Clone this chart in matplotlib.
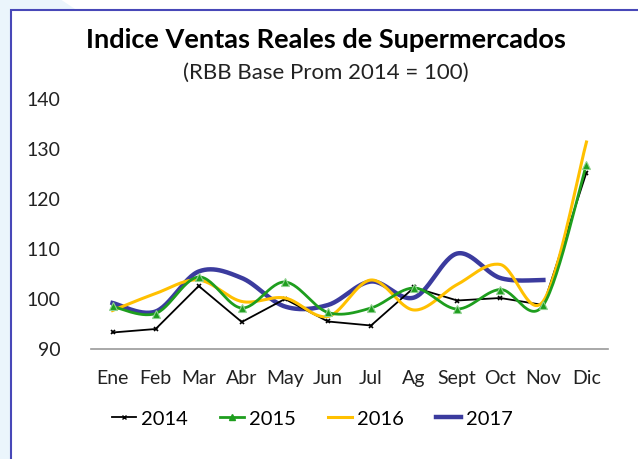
import numpy as np
import matplotlib
matplotlib.use('Agg')
import matplotlib.pyplot as plt
from matplotlib.patches import Polygon, Rectangle
from matplotlib.lines import Line2D

months = ["Ene", "Feb", "Mar", "Abr", "May", "Jun", "Jul", "Ag", "Sept", "Oct", "Nov", "Dic"]
v2014 = [93.2, 93.9, 102.5, 95.3, 99.9, 95.4, 94.6, 102.2, 99.6, 100.1, 98.7, 125.2]
v2015 = [98.4, 97.0, 104.3, 98.1, 103.3, 97.2, 98.1, 102.1, 97.9, 101.8, 98.7, 126.8]
v2016 = [97.6, 101.0, 103.7, 99.4, 100.1, 96.4, 103.7, 97.7, 102.8, 106.8, 99.5, 131.3]
v2017 = [99.1, 97.4, 105.4, 104.1, 98.4, 98.7, 103.4, 100.2, 109.0, 104.1, 103.7]


def smooth(y, n=30):
    # Catmull-Rom style curve, like Excel's "smoothed line"
    x = np.arange(len(y), dtype=float)
    y = np.asarray(y, dtype=float)
    px = np.concatenate([[x[0]], x, [x[-1]]])
    py = np.concatenate([[y[0]], y, [y[-1]]])
    xs, ys = [], []
    t = np.linspace(0, 1, n)
    for i in range(len(y) - 1):
        p0 = np.array([x[i], y[i]])
        p3 = np.array([x[i + 1], y[i + 1]])
        p1 = p0 + (np.array([px[i + 2], py[i + 2]]) - np.array([px[i], py[i]])) / 6
        p2 = p3 - (np.array([px[i + 3], py[i + 3]]) - np.array([px[i + 1], py[i + 1]])) / 6
        b = ((1 - t) ** 3)[:, None] * p0 + (3 * (1 - t) ** 2 * t)[:, None] * p1 \
            + (3 * (1 - t) * t ** 2)[:, None] * p2 + (t ** 3)[:, None] * p3
        xs.append(b[:, 0])
        ys.append(b[:, 1])
    return np.concatenate(xs), np.concatenate(ys)


plt.rcParams['font.family'] = ['Lato', 'DejaVu Sans']

fig = plt.figure(figsize=(6.38, 4.6), dpi=100)
fig.patch.set_facecolor('white')

# slide background + chart frame
W, H = 638, 460
fig.patches.append(Polygon([(0, 0), (10 / W, 0), (10 / W, 1 - 10 / H), (75 / W, 1 - 10 / H),
                            (60 / W, 1), (0, 1)], closed=True, transform=fig.transFigure,
                           facecolor='#EBF5FC', edgecolor='none', zorder=0))
fig.patches.append(Rectangle((10.5 / W, -0.1), 1.2, 1 - 10.5 / H + 0.1, transform=fig.transFigure,
                             facecolor='none', edgecolor='#4848B8', lw=1.5, zorder=1))

ax = fig.add_axes([91 / W, 1 - 349.5 / H, (608 - 91) / W, (349.5 - 99.5) / H])
x = np.arange(len(months))

ax.plot(x, v2014, color='black', lw=1.3, marker='x', ms=3, mew=1.2, zorder=3)

sx, sy = smooth(v2015)
ax.plot(sx, sy, color='#1E9E1E', lw=2, zorder=4)
ax.plot(x, v2015, ls='none', marker='^', ms=6, color='#1E9E1E',
        markeredgecolor='#8FD18F', mew=0.8, zorder=5)

sx, sy = smooth(v2016)
ax.plot(sx, sy, color='#FFC000', lw=2.2, zorder=3)

sx, sy = smooth(v2017)
ax.plot(sx, sy, color='#3B3B9E', lw=3.2, zorder=2)

ax.set_xlim(-0.5, len(months) - 0.5)
ax.set_ylim(90, 140)
ax.set_yticks([90, 100, 110, 120, 130, 140])
ax.set_xticks(x)
ax.set_xticklabels(months)
ax.tick_params(axis='both', length=0, labelsize=14, colors='#222222')
ax.tick_params(axis='x', pad=15)
ax.tick_params(axis='y', pad=22)
for s in ['top', 'right', 'left']:
    ax.spines[s].set_visible(False)
ax.spines['bottom'].set_color('#999999')
ax.spines['bottom'].set_linewidth(1.2)

fig.text(326 / W, 1 - 40 / H, "Indice Ventas Reales de Supermercados", ha='center', va='center',
         fontsize=19.5, fontweight='bold', color='black')
fig.text(326 / W, 1 - 73 / H, "(RBB Base Prom 2014 = 100)", ha='center', va='center',
         fontsize=16, color='#222222')

handles = [
    Line2D([], [], color='black', lw=1.3, marker='x', ms=3),
    Line2D([], [], color='#1E9E1E', lw=2, marker='^', ms=4, markeredgecolor='#1E9E1E'),
    Line2D([], [], color='#FFC000', lw=2.2),
    Line2D([], [], color='#3B3B9E', lw=3.2),
]
fig.legend(handles, ["2014", "2015", "2016", "2017"], loc='center', bbox_to_anchor=(312 / W, 1 - 419 / H),
           ncol=4, frameon=False, fontsize=14.5, handlelength=1.2, handletextpad=0.25, columnspacing=1.6)

fig.savefig('out.png', dpi=100)
